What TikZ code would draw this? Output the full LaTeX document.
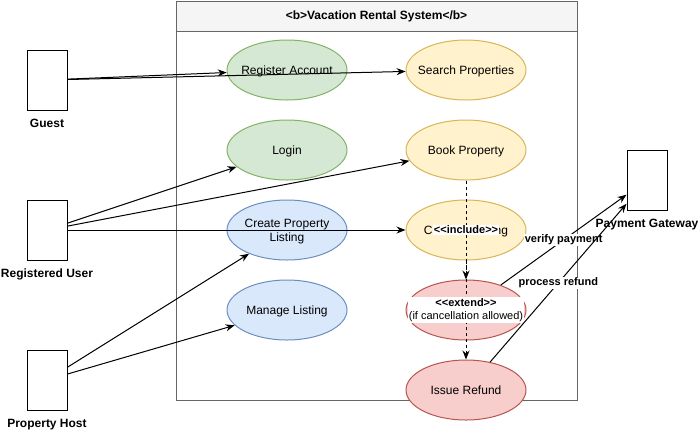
\documentclass[tikz,border=0pt]{standalone}
\usepackage{fontspec}
\setmainfont{Liberation Sans}
\usetikzlibrary{shapes.geometric,arrows.meta,positioning}

\definecolor{greenfill}{HTML}{D5E8D4}
\definecolor{greenline}{HTML}{82B366}
\definecolor{yellowfill}{HTML}{FFF2CC}
\definecolor{yellowline}{HTML}{D6B656}
\definecolor{bluefill}{HTML}{DAE8FC}
\definecolor{blueline}{HTML}{6C8EBF}
\definecolor{redfill}{HTML}{F8CECC}
\definecolor{redline}{HTML}{B85450}
\definecolor{sysline}{HTML}{666666}
\definecolor{headfill}{HTML}{F5F5F5}

% text of a use case, kept from widening the ellipse
\newcommand{\uctext}[1]{\makebox[0pt]{\begin{tabular}{@{}c@{}}#1\end{tabular}}}

\begin{document}
\begin{tikzpicture} [x=1pt, y=-1pt, line width=1pt]
    \tikzstyle{every node} = [align=center, font=\fontsize{12}{14}\selectfont]
    \tikzstyle{usecase} = [ellipse, minimum width=120pt, minimum height=60pt, inner sep=0pt, text height=8.6pt, text depth=0pt]
    \tikzstyle{greencase} = [usecase, draw=greenline, fill=greenfill]
    \tikzstyle{yellowcase} = [usecase, draw=yellowline, fill=yellowfill]
    \tikzstyle{bluecase} = [usecase, draw=blueline, fill=bluefill]
    \tikzstyle{redcase} = [usecase, draw=redline, fill=redfill]
    \tikzstyle{actorbox} = [draw, fill=white, minimum width=40pt, minimum height=60pt, inner sep=0pt]
    \tikzstyle{actorlabel} = [font=\fontsize{12}{14}\selectfont\bfseries, inner sep=0pt, below=8pt]
    \tikzstyle{assoc} = [-{Stealth[length=9pt, width=7pt]}]
    \tikzstyle{dep} = [assoc, dash pattern=on 3pt off 3pt]
    \tikzstyle{edgelabel} = [fill=white, inner sep=1pt, font=\fontsize{11}{13}\selectfont]
    \useasboundingbox (0,0) rectangle (698,432);

    % system boundary
    \draw [draw=sysline, fill=headfill] (176,1) rectangle (577,31);
    \draw [draw=sysline] (176,31) rectangle (577,400);
    \node [font=\fontsize{12}{14}\selectfont\bfseries] (title) at (376.5,16) {<{}b>Vacation Rental System<{}/b>};

    % use cases
    \node [greencase] (register) at (287,70) {\uctext{Register Account}};
    \node [yellowcase] (search) at (466,70) {\uctext{Search Properties}};
    \node [greencase] (login) at (287,150) {\uctext{Login}};
    \node [yellowcase] (book) at (466,150) {\uctext{Book Property}};
    \node [bluecase] (create) at (287,230) {\uctext{Create Property\\Listing}};
    \node [yellowcase] (cancel) at (466,230) {\uctext{Cancel Booking}};
    \node [bluecase] (manage) at (287,310) {\uctext{Manage Listing}};
    \node [redcase] (pay) at (466,310) {};
    \node [redcase] (refund) at (466,390) {\uctext{Issue Refund}};

    % actors
    \node [actorbox] (guest) at (47,80) {};
    \node [actorlabel] at (guest.south) {Guest};
    \node [actorbox] (user) at (47,230) {};
    \node [actorlabel] at (user.south) {Registered User};
    \node [actorbox] (host) at (47,380) {};
    \node [actorlabel] at (host.south) {Property Host};
    \node [actorbox] (gateway) at (647,180) {};
    \node [actorlabel] at (gateway.south) {Payment Gateway};

    % associations
    \draw [assoc] (guest) -- (register);
    \draw [assoc] (guest) -- (search);
    \draw [assoc] (user) -- (login);
    \draw [assoc] (user) -- (book);
    \draw [assoc] (user) -- (cancel);
    \draw [assoc] (host) -- (create);
    \draw [assoc] (host) -- (manage);

    % include / extend
    \draw [dep] (book) -- node [edgelabel, font=\fontsize{11}{13}\selectfont\bfseries] {<{}<include>{}>} (pay);
    \draw [dep] (cancel) -- node [edgelabel] {\textbf{<{}<extend>{}>}\\(if cancellation allowed)} (refund);

    % payment gateway
    \draw [assoc] (pay) -- node [edgelabel, font=\fontsize{11}{13}\selectfont\bfseries] {verify payment} (gateway);
    \draw [assoc] (refund) -- node [edgelabel, font=\fontsize{11}{13}\selectfont\bfseries] {process refund} (gateway);
\end{tikzpicture}
\end{document}
